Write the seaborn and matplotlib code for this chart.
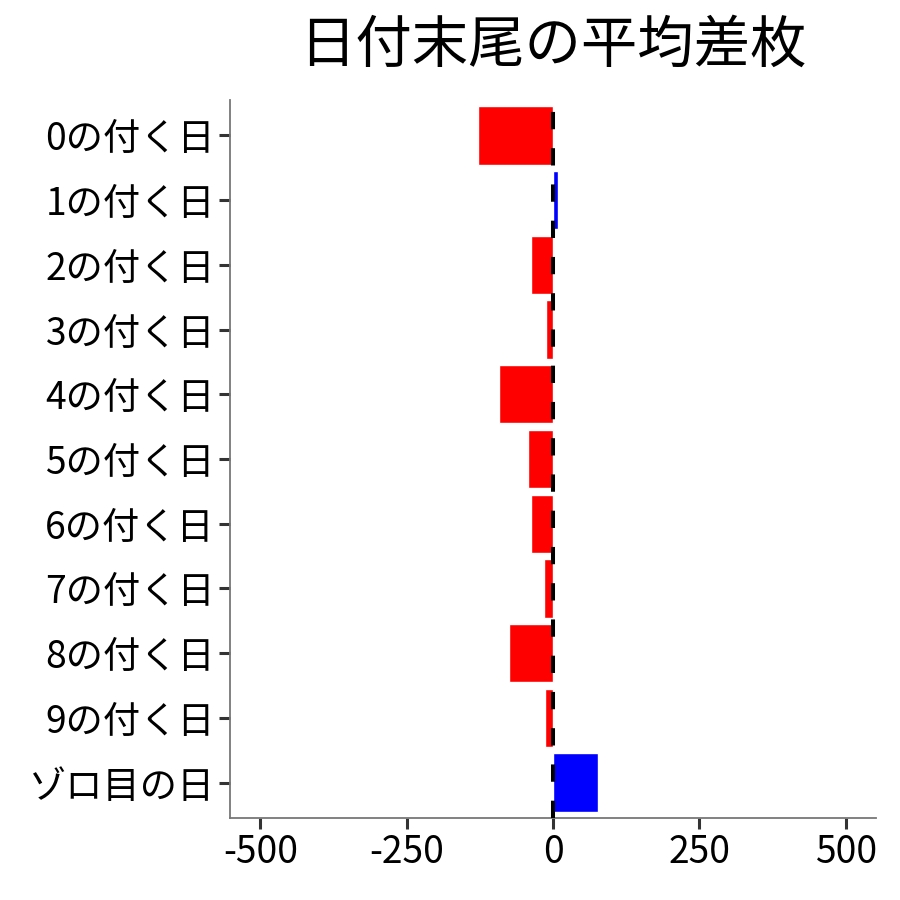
import matplotlib
matplotlib.use("Agg")
import matplotlib.pyplot as plt
import seaborn as sns
import pandas as pd

categories = ["0の付く日", "1の付く日", "2の付く日", "3の付く日", "4の付く日",
              "5の付く日", "6の付く日", "7の付く日", "8の付く日", "9の付く日", "ゾロ目の日"]
values = [-129, 8.5, -38.5, -11.5, -93, -42, -37, -15, -76, -13, 77]
xticks = [-500, -250, 0, 250, 500]
title = "日付末尾の平均差枚"

sns.set_theme(style="white")
plt.rcParams['font.family'] = ['Noto Sans CJK JP', 'DejaVu Sans']

df = pd.DataFrame({"cat": categories, "val": values})
df["sign"] = ["neg" if v < 0 else "pos" for v in values]

fig = plt.figure(figsize=(9, 9), dpi=100)
ax = fig.add_axes([0.256, 0.091, 0.717, 0.798])

sns.barplot(data=df, x="val", y="cat", hue="sign", order=categories,
            palette={"neg": "#FF0000", "pos": "#0000FF"}, dodge=False,
            width=0.9, legend=False, ax=ax, saturation=1)

ax.axvline(0, color="black", linewidth=2.9, linestyle=(0, (4.3, 4.7)), zorder=5)

ax.set_xlim(-551, 551)
ax.set_ylim(len(categories) - 0.5 + 0.05, -0.5 - 0.05)
ax.set_xticks(xticks)
ax.set_xticklabels([str(t) for t in xticks])
ax.set_xlabel("")
ax.set_ylabel("")
ax.tick_params(axis="both", labelsize=26.8, length=8, width=2.2, color="#333333",
               labelcolor="black", pad=3, left=True, bottom=True)
for s in ["top", "right"]:
    ax.spines[s].set_visible(False)
for s in ["left", "bottom"]:
    ax.spines[s].set_color("#777777")
    ax.spines[s].set_linewidth(1.3)

fig.suptitle(title, fontsize=40.6, x=0.614, y=0.982, va="top", color="black")

fig.savefig("out.png", dpi=100)
